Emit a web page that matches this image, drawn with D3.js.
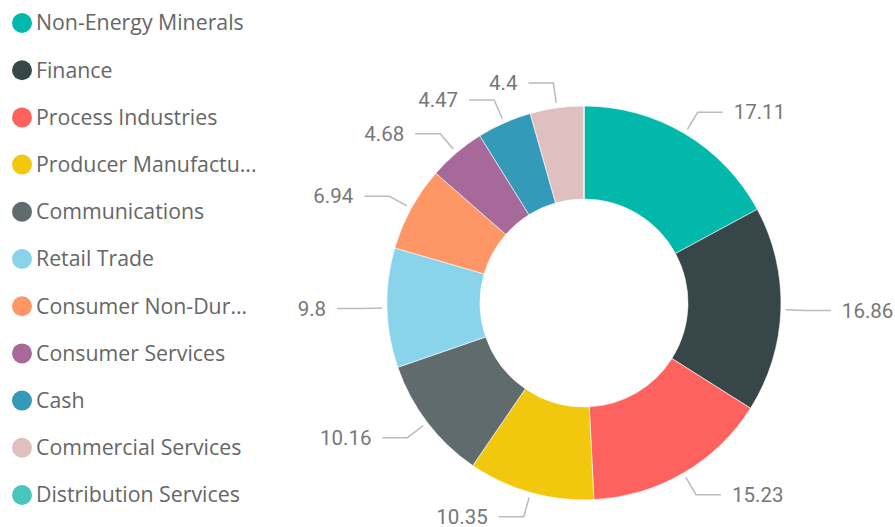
<!DOCTYPE html>
<html>
<head>
<meta charset="utf-8">
<script src="https://cdn.jsdelivr.net/npm/d3@7"></script>
<style>
	body { margin: 0; background: #fff; }
	#chart { width: 895px; height: 527px; }
</style>
</head>
<body>
<div id="chart"></div>
<script>
var sectors = ["Non-Energy Minerals", "Finance", "Process Industries", "Producer Manufacturing",
	"Communications", "Retail Trade", "Consumer Non-Durables", "Consumer Services",
	"Cash", "Commercial Services", "Distribution Services"];
var legendLabels = ["Non-Energy Minerals", "Finance", "Process Industries", "Producer Manufactu...",
	"Communications", "Retail Trade", "Consumer Non-Dur...", "Consumer Services",
	"Cash", "Commercial Services", "Distribution Services"];
var weights = [17.11, 16.86, 15.23, 10.35, 10.16, 9.8, 6.94, 4.68, 4.47, 4.4, 0];
var colours = ["#01B8AA", "#374649", "#FD625E", "#F2C80F", "#5F6B6D", "#8AD4EB",
	"#FE9666", "#A66999", "#3599B8", "#DFBFBF", "#4AC5BB"];

function init() {
	var w = 895;
	var h = 527;
	var cx = 584, cy = 303;
	var outer = 197, inner = 104;

	var svg = d3.select("#chart")
		.append("svg")
		.attr("width", w)
		.attr("height", h);

	var dataset = sectors.map((s, i) => ({ sector: s, label: legendLabels[i], value: weights[i] }));

	var colour = d3.scaleOrdinal()
		.domain(sectors)
		.range(colours);

	// legend
	var legend = svg.append("g")
		.selectAll("g")
		.data(dataset)
		.join("g")
			.attr("transform", (d, i) => `translate(0,${23 + i * 47.2})`);

	legend.append("circle")
		.attr("cx", 22)
		.attr("cy", 0)
		.attr("r", 10)
		.attr("fill", d => colour(d.sector));

	legend.append("text")
		.attr("x", 36)
		.attr("y", 0)
		.attr("dy", "0.35em")
		.attr("font-family", "'Open Sans', sans-serif")
		.attr("font-size", 21.3)
		.attr("fill", "#666")
		.text(d => d.label);

	// donut
	var pie = d3.pie()
		.sort(null)
		.value(d => d.value);

	var arc = d3.arc()
		.innerRadius(inner)
		.outerRadius(outer);

	var arcs = pie(dataset);

	var g = svg.append("g")
		.attr("transform", `translate(${cx},${cy})`);

	g.selectAll("path")
		.data(arcs)
		.join("path")
			.attr("d", arc)
			.attr("fill", d => colour(d.data.sector))
			.attr("stroke", "#fff")
			.attr("stroke-width", 0.6);

	// labels
	var startArc = d3.arc().innerRadius(202).outerRadius(202);
	var elbowArc = d3.arc().innerRadius(222).outerRadius(222);

	var lab = g.selectAll("g.lab")
		.data(arcs.filter(d => d.value > 0))
		.join("g")
			.attr("class", "lab");

	function side(d) {
		var mid = (d.startAngle + d.endAngle) / 2;
		return mid < Math.PI ? 1 : -1;
	}

	lab.append("polyline")
		.attr("fill", "none")
		.attr("stroke", "#bbb")
		.attr("stroke-width", 1.5)
		.attr("points", d => {
			var a = startArc.centroid(d);
			var b = elbowArc.centroid(d);
			var c = [b[0] + side(d) * 25, b[1]];
			return [a, b, c].map(p => p.join(",")).join(" ");
		});

	lab.append("text")
		.attr("x", d => elbowArc.centroid(d)[0] + side(d) * 36)
		.attr("y", d => elbowArc.centroid(d)[1])
		.attr("dy", "0.35em")
		.attr("text-anchor", d => side(d) > 0 ? "start" : "end")
		.attr("font-family", "Roboto, sans-serif")
		.attr("font-size", 20.5)
		.attr("fill", "#777")
		.text(d => d.data.value);
}

window.onload = init;
</script>
</body>
</html>
